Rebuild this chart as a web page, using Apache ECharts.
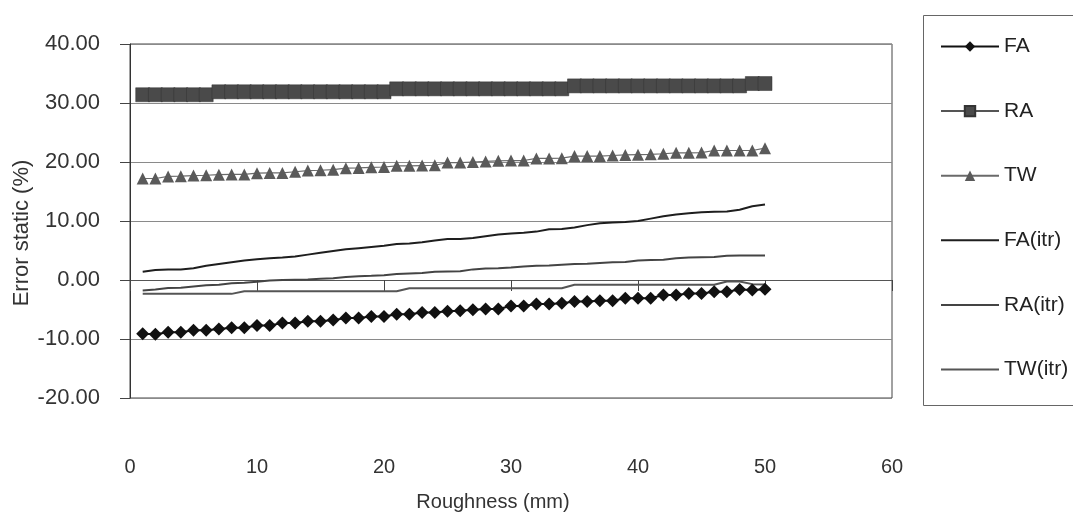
<!DOCTYPE html>
<html><head><meta charset="utf-8">
<script src="https://cdn.jsdelivr.net/npm/echarts@6/dist/echarts.min.js"></script>
<style>html,body{margin:0;padding:0;background:#fff}#c{width:1073px;height:518px}</style>
</head><body><div id="c"></div>
<script>
const roughness = [1,2,3,4,5,6,7,8,9,10,11,12,13,14,15,16,17,18,19,20,21,22,23,24,25,26,27,28,29,30,31,32,33,34,35,36,37,38,39,40,41,42,43,44,45,46,47,48,49,50];
const FA = [-9.1,-9.2,-8.85,-8.85,-8.5,-8.5,-8.3,-8.1,-8.1,-7.7,-7.7,-7.3,-7.3,-7.0,-7.0,-6.8,-6.45,-6.45,-6.2,-6.2,-5.8,-5.8,-5.5,-5.5,-5.3,-5.2,-5.05,-4.9,-4.9,-4.4,-4.4,-4.05,-4.05,-3.95,-3.65,-3.65,-3.5,-3.5,-3.1,-3.1,-3.1,-2.55,-2.55,-2.3,-2.3,-2.0,-2.0,-1.6,-1.7,-1.55];
const RA = [31.4,31.4,31.4,31.4,31.4,31.4,31.9,31.9,31.9,31.9,31.9,31.9,31.9,31.9,31.9,31.9,31.9,31.9,31.9,31.9,32.4,32.4,32.4,32.4,32.4,32.4,32.4,32.4,32.4,32.4,32.4,32.4,32.4,32.4,32.9,32.9,32.9,32.9,32.9,32.9,32.9,32.9,32.9,32.9,32.9,32.9,32.9,32.9,33.3,33.3];
const TW = [17.2,17.2,17.55,17.6,17.7,17.75,17.85,17.9,17.9,18.1,18.15,18.15,18.35,18.55,18.6,18.7,18.95,19.0,19.1,19.15,19.35,19.35,19.4,19.45,19.9,19.9,20.0,20.1,20.2,20.25,20.25,20.6,20.6,20.65,21.0,21.0,21.0,21.1,21.2,21.25,21.3,21.4,21.55,21.55,21.6,21.95,21.95,21.95,21.95,22.35];
const FA_itr = [1.4,1.7,1.8,1.8,2.0,2.4,2.7,3.0,3.3,3.5,3.7,3.8,4.0,4.3,4.6,4.9,5.2,5.4,5.6,5.8,6.1,6.2,6.4,6.7,6.95,6.95,7.1,7.4,7.7,7.9,8.0,8.2,8.6,8.65,8.9,9.3,9.6,9.75,9.85,10.0,10.4,10.8,11.1,11.3,11.5,11.55,11.6,11.9,12.5,12.8];
const RA_itr = [-1.8,-1.6,-1.35,-1.3,-1.1,-0.9,-0.8,-0.55,-0.45,-0.3,-0.1,0.0,0.05,0.1,0.2,0.3,0.5,0.65,0.7,0.8,1.0,1.1,1.2,1.4,1.45,1.5,1.8,1.95,2.0,2.1,2.3,2.4,2.45,2.6,2.7,2.75,2.9,3.0,3.05,3.3,3.4,3.45,3.7,3.8,3.85,3.9,4.1,4.15,4.15,4.15];
const TW_itr = [-2.35,-2.35,-2.35,-2.35,-2.35,-2.35,-2.35,-2.35,-1.9,-1.9,-1.9,-1.9,-1.9,-1.9,-1.9,-1.9,-1.9,-1.9,-1.9,-1.9,-1.9,-1.4,-1.4,-1.4,-1.4,-1.4,-1.4,-1.4,-1.4,-1.4,-1.4,-1.4,-1.4,-1.4,-0.8,-0.8,-0.8,-0.8,-0.8,-0.8,-0.8,-0.8,-0.8,-0.8,-0.8,-0.8,-0.25,-0.25,-0.7,-0.75];
const seriesNames = ['FA','RA','TW','FA(itr)','RA(itr)','TW(itr)'];
const xTicks = [0,10,20,30,40,50,60];
const yTicks = [-20,-10,0,10,20,30,40];

const font = '"Liberation Sans", Arial, sans-serif';
const pairs = v => roughness.map((x, i) => [x, v[i]]);
const chart = echarts.init(document.getElementById('c'), null, {renderer: 'canvas'});
chart.setOption({
  animation: false,
  backgroundColor: '#ffffff',
  textStyle: {fontFamily: font},
  grid: {left: 130, right: 181, top: 44, bottom: 120, show: true, borderColor: '#444', borderWidth: 1,
         backgroundColor: 'transparent', containLabel: false, outerBoundsMode: 'none'},
  xAxis: [
    {type: 'value', min: xTicks[0], max: xTicks[xTicks.length-1], interval: 10,
     axisLine: {show: true, onZero: true, lineStyle: {color: '#555', width: 1}},
     axisTick: {show: true, length: 11, lineStyle: {color: '#444', width: 1}},
     axisLabel: {show: false}, splitLine: {show: false}},
    {type: 'value', min: xTicks[0], max: xTicks[xTicks.length-1], interval: 10, position: 'bottom',
     axisLine: {show: false, onZero: false}, axisTick: {show: false}, splitLine: {show: false},
     axisLabel: {margin: 59, fontSize: 20, color: '#333', fontFamily: font},
     name: 'Roughness (mm)', nameLocation: 'middle', nameGap: 94,
     nameTextStyle: {fontSize: 20, color: '#333', fontFamily: font, padding: [0, 36, 0, 0]}}
  ],
  yAxis: {type: 'value', min: yTicks[0], max: yTicks[yTicks.length-1], interval: 10,
    axisLine: {show: true, onZero: false, lineStyle: {color: '#333', width: 1}},
    axisTick: {show: true, length: 10, lineStyle: {color: '#444'}},
    axisLabel: {margin: 30, fontSize: 22, color: '#333', fontFamily: font, formatter: v => v.toFixed(2)},
    splitLine: {show: true, lineStyle: {color: '#8a8a8a', width: 1}},
    name: 'Error static (%)', nameLocation: 'middle', nameGap: 97, nameMoveOverlap: false,
    nameTextStyle: {fontSize: 22, color: '#333', fontFamily: font, padding: [0, 24, 0, 0]}},
  legend: {orient: 'vertical', left: 935, top: 31, itemWidth: 58, itemHeight: 13, itemGap: 43.6,
    textStyle: {fontSize: 21, color: '#222', fontFamily: font},
    data: [
      {name: seriesNames[0]}, {name: seriesNames[1]}, {name: seriesNames[2]},
      {name: seriesNames[3], itemStyle: {opacity: 0}},
      {name: seriesNames[4], itemStyle: {opacity: 0}},
      {name: seriesNames[5], itemStyle: {opacity: 0}}
    ]},
  graphic: [{type: 'rect', shape: {x: 923.5, y: 15.5, width: 200, height: 390}, style: {fill: 'none', stroke: '#666', lineWidth: 1}, silent: true}],
  series: [
    {name: seriesNames[0], type: 'line', data: pairs(FA), symbol: 'diamond', symbolSize: 13,
     itemStyle: {color: '#111'}, lineStyle: {color: '#111', width: 2}},
    {name: seriesNames[1], type: 'line', data: pairs(RA), symbol: 'rect', symbolSize: 14,
     itemStyle: {color: '#4a4a4a', borderColor: '#333', borderWidth: 0.5}, lineStyle: {color: '#555', width: 1.5}},
    {name: seriesNames[2], type: 'line', data: pairs(TW), symbol: 'triangle', symbolSize: 12,
     itemStyle: {color: '#5a5a5a'}, lineStyle: {color: '#6a6a6a', width: 1.2}},
    {name: seriesNames[3], type: 'line', data: pairs(FA_itr), symbol: 'none', lineStyle: {color: '#1e1e1e', width: 2}, itemStyle: {color: '#1e1e1e'}},
    {name: seriesNames[4], type: 'line', data: pairs(RA_itr), symbol: 'none', lineStyle: {color: '#444', width: 2}, itemStyle: {color: '#444'}},
    {name: seriesNames[5], type: 'line', data: pairs(TW_itr), symbol: 'none', lineStyle: {color: '#555', width: 2}, itemStyle: {color: '#555'}}
  ]
});
</script></body></html>
